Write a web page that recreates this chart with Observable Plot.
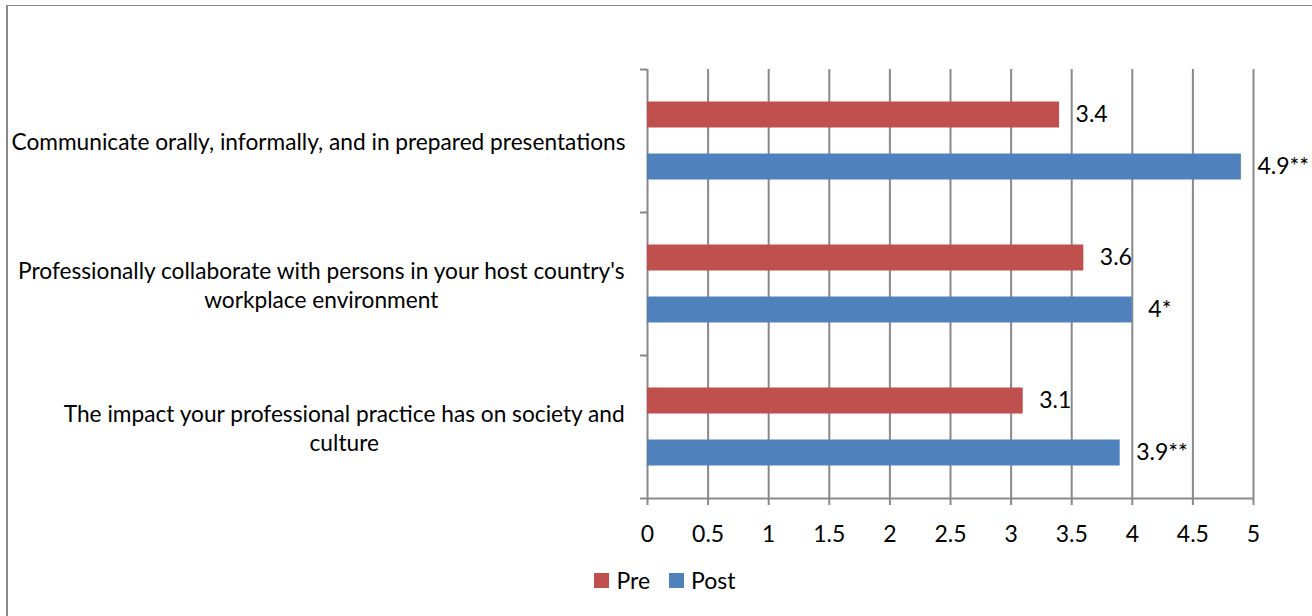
<!DOCTYPE html>
<html>
<head>
<meta charset="utf-8">
<script src="https://cdn.jsdelivr.net/npm/d3@7"></script>
<script src="https://cdn.jsdelivr.net/npm/@observablehq/plot@0.6"></script>
<style>
  html, body { margin: 0; padding: 0; background: #fff; overflow: hidden; }
  #wrap { position: relative; width: 1312px; height: 616px; font-family: Lato, "Open Sans", sans-serif; }
  #border { position: absolute; left: 6px; top: 5px; width: 1400px; height: 700px;
            border-top: 1.5px solid #8a8a8a; border-left: 2px solid #8a8a8a; pointer-events: none; }
  #chart svg { display: block; }
  #legend { display: flex; justify-content: center; align-items: center; height: 40px;
            padding-left: 18px; font-size: 23px; color: #000; }
  .item { display: flex; align-items: center; margin: 0 9.5px; }
  .swatch { width: 15px; height: 15px; margin-right: 7px; }
</style>
</head>
<body>
<div id="wrap">
  <div id="chart"></div>
  <div id="legend"></div>
  <div id="border"></div>
</div>
<script>
// Survey items (categories), shown on the vertical axis
const categories = [
  "Communicate orally, informally, and in prepared presentations",
  "Professionally collaborate with persons in your host country's workplace environment",
  "The impact your professional practice has on society and culture"
];
// Axis text for each item, with its line breaks
const categoryLabels = [
  "Communicate orally, informally, and in prepared presentations",
  "Professionally collaborate with persons in your host country's\nworkplace environment",
  "The impact your professional practice has on society and\nculture"
];
// Mean ratings before and after
const preValues = [3.4, 3.6, 3.1];
const postValues = [4.9, 4, 3.9];
// Significance markers appended to the post labels
const postMarkers = ["**", "*", "**"];
// Series names and colours
const seriesNames = ["Pre", "Post"];
const seriesColors = ["#C0504D", "#4F81BD"];
// Value axis ticks
const xTicks = [0, 0.5, 1, 1.5, 2, 2.5, 3, 3.5, 4, 4.5, 5];

const preRows = categories.map((c, i) => ({category: c, value: preValues[i], label: String(preValues[i])}));
const postRows = categories.map((c, i) => ({category: c, value: postValues[i], label: String(postValues[i]) + postMarkers[i]}));

const W = 1312, H = 560;
const mt = 69, mb = 62, ml = 647, mr = 59;
const fontSize = 23;
const catFontSize = 22.7;
const fontFamily = "Lato, 'Open Sans', sans-serif";
const bandPx = (H - mt - mb) / categories.length;
const barPx = 26, barGap = 26;
const outer = (bandPx - 2 * barPx - barGap) / 2;
const gridColor = "#898989";

// Width of the longest line of each category label, for centring the lines
const ctx = document.createElement("canvas").getContext("2d");
ctx.font = `${catFontSize}px Lato`;
const labelWidths = categoryLabels.map(s => d3.max(s.split("\n"), l => ctx.measureText(l).width));

const chart = Plot.plot({
  width: W,
  height: H,
  marginTop: mt,
  marginBottom: mb,
  marginLeft: ml,
  marginRight: mr,
  style: {fontFamily, fontSize: `${fontSize}px`, color: "#000", background: "transparent"},
  x: {domain: [0, 5], axis: null},
  y: {domain: categories, padding: 0, axis: null},
  marks: [
    Plot.gridX(xTicks, {stroke: gridColor, strokeOpacity: 1, strokeWidth: 2}),
    // category boundary ticks on the left axis
    Plot.ruleY(categories, {y: d => d, x1: 0, x2: 0, insetLeft: -7, dy: -bandPx / 2, stroke: gridColor, strokeWidth: 2}),
    // bottom axis line with its left tick
    Plot.ruleY([categories[categories.length - 1]], {y: d => d, dy: bandPx / 2, insetLeft: -7, stroke: gridColor, strokeWidth: 2}),
    Plot.axisX({ticks: xTicks, tickSize: 7, tickPadding: 20, label: null, stroke: gridColor, strokeWidth: 2, tickFormat: d => String(d), fontSize: fontSize, fill: "#000"}),
    Plot.barX(preRows, {x: "value", y: "category", fill: seriesColors[0], insetTop: outer, insetBottom: outer + barPx + barGap}),
    Plot.barX(postRows, {x: "value", y: "category", fill: seriesColors[1], insetTop: outer + barPx + barGap, insetBottom: outer}),
    Plot.text(preRows, {x: "value", y: "category", text: "label", dx: 16, dy: -(barPx + barGap) / 2, textAnchor: "start", fill: "#000"}),
    Plot.text(postRows, {x: "value", y: "category", text: "label", dx: 16, dy: (barPx + barGap) / 2, textAnchor: "start", fill: "#000"}),
    ...categories.map((c, i) => Plot.text([c], {
      y: d => d,
      text: () => categoryLabels[i],
      frameAnchor: "left",
      textAnchor: "middle",
      lineAnchor: "middle",
      lineHeight: 1.28,
      fontSize: catFontSize,
      dx: -(22 + labelWidths[i] / 2),
      fill: "#000"
    }))
  ]
});
document.getElementById("chart").append(chart);

// Legend below the chart
const legend = document.getElementById("legend");
seriesNames.forEach((name, i) => {
  const item = document.createElement("div");
  item.className = "item";
  const sw = document.createElement("span");
  sw.className = "swatch";
  sw.style.background = seriesColors[i];
  const tx = document.createElement("span");
  tx.textContent = name;
  item.append(sw, tx);
  legend.append(item);
});
</script>
</body>
</html>
